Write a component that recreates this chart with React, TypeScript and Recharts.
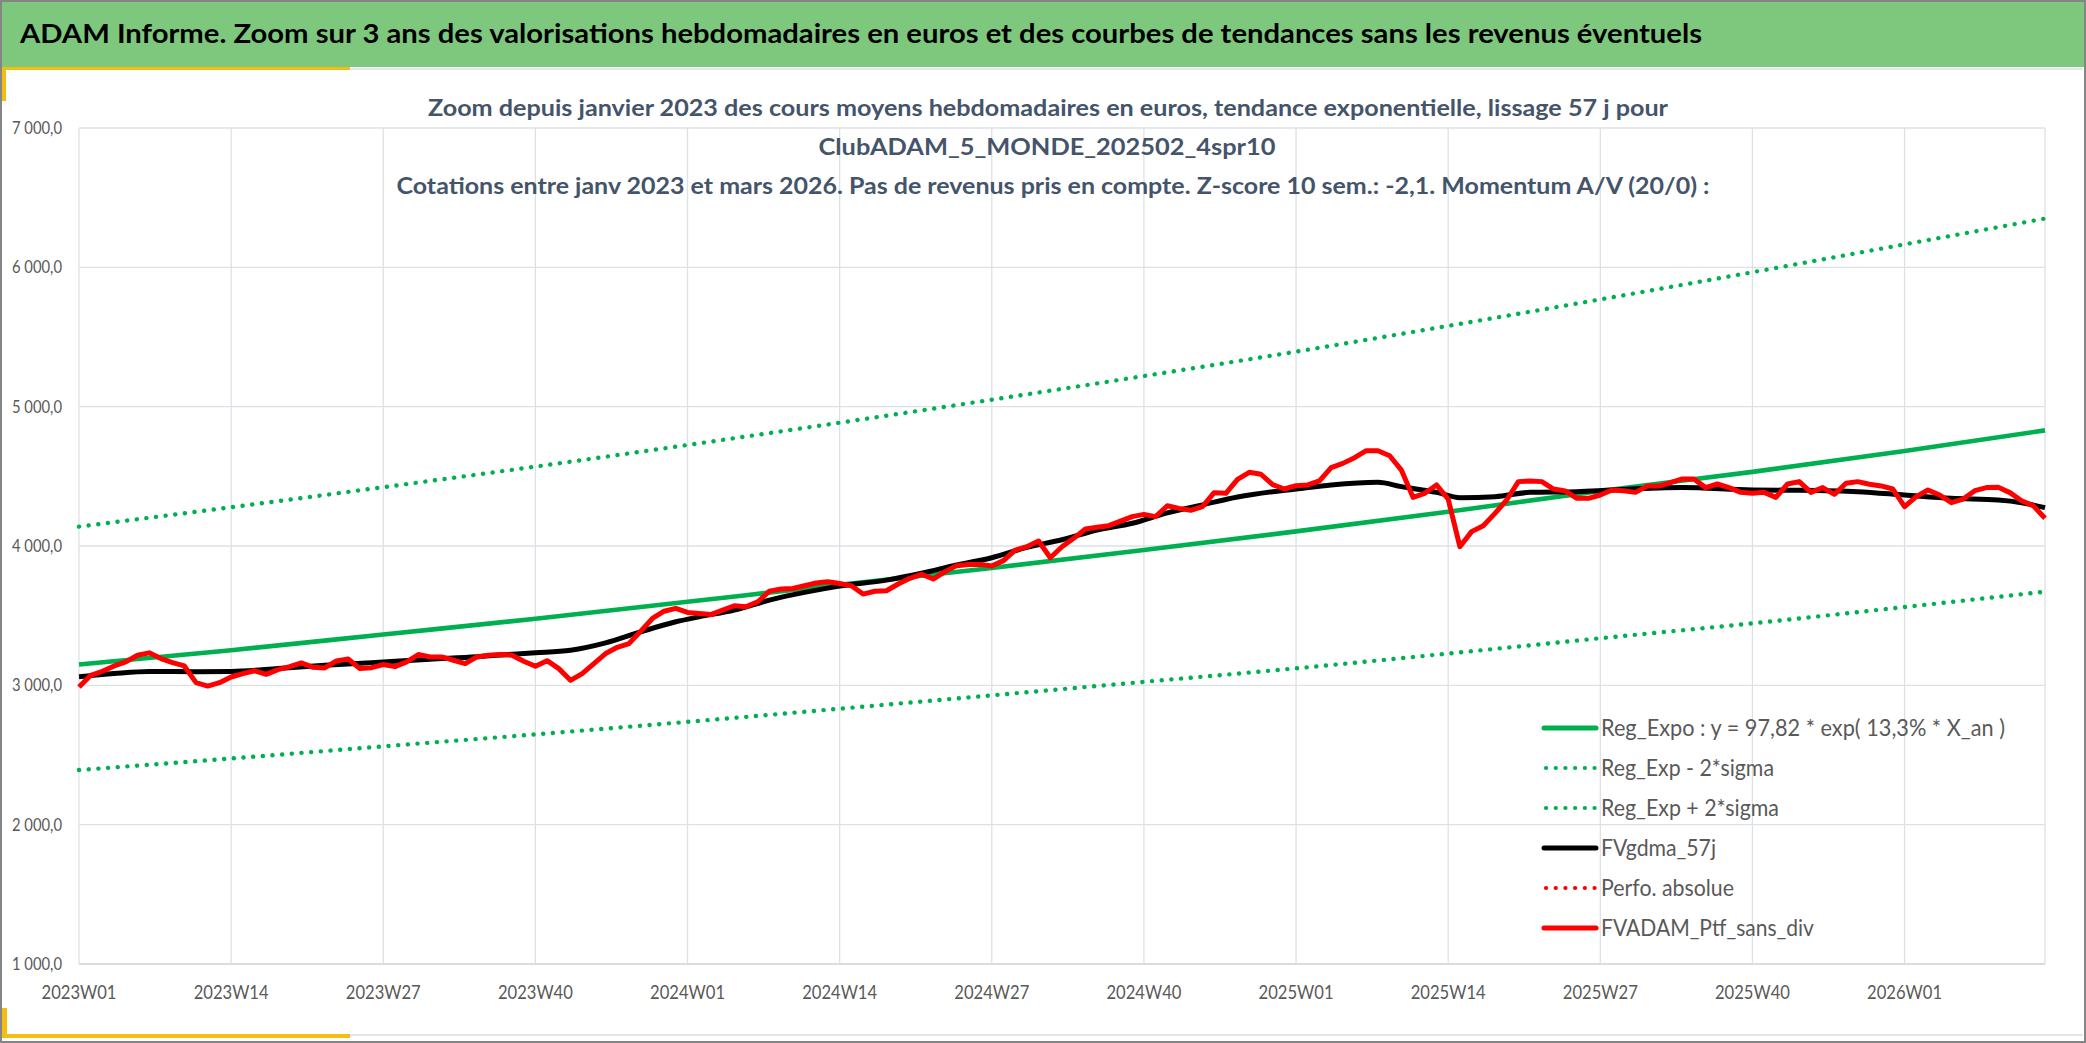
import React from 'react';
import { LineChart, Line, XAxis, YAxis, CartesianGrid } from 'recharts';

const W = 2086;
const H = 1043;
const FONT = "Lato, 'Open Sans', 'DejaVu Sans', sans-serif";

// ---- tick labels ----
const tickWeeks = [0, 13, 26, 39, 52, 65, 78, 91, 104, 117, 130, 143, 156];
const weekLabels = [
  '2023W01', '2023W14', '2023W27', '2023W40', '2024W01', '2024W14', '2024W27',
  '2024W40', '2025W01', '2025W14', '2025W27', '2025W40', '2026W01',
];
const yTicks = [1000, 2000, 3000, 4000, 5000, 6000, 7000];

// ---- FVADAM_Ptf_sans_div : weekly values, week index 0 = 2023W01 ----
const portfolioValues = [
  2988, 3072, 3101, 3139, 3168, 3216, 3233, 3192, 3163, 3139,
  3019, 2995, 3019, 3060, 3084, 3105, 3079, 3113, 3134, 3161,
  3129, 3125, 3175, 3189, 3120, 3127, 3149, 3134, 3168, 3221,
  3204, 3204, 3180, 3156, 3204, 3216, 3221, 3216, 3173, 3137,
  3177, 3120, 3036, 3084, 3156, 3228, 3273, 3300, 3388, 3480,
  3532, 3552, 3523, 3516, 3508, 3540, 3571, 3564, 3600, 3676,
  3691, 3695, 3715, 3734, 3743, 3731, 3715, 3655, 3675, 3679,
  3727, 3768, 3797, 3763, 3816, 3859, 3868, 3868, 3856, 3895,
  3971, 3995, 4036, 3916, 3995, 4055, 4122, 4134, 4146, 4179,
  4211, 4227, 4211, 4289, 4270, 4256, 4282, 4383, 4378, 4478,
  4529, 4515, 4440, 4409, 4433, 4438, 4467, 4562, 4593, 4634,
  4684, 4684, 4648, 4545, 4349, 4378, 4438, 4337, 3995, 4103,
  4146, 4234, 4330, 4462, 4467, 4462, 4409, 4395, 4342, 4342,
  4366, 4402, 4397, 4385, 4430, 4430, 4455, 4481, 4481, 4419,
  4445, 4419, 4385, 4378, 4385, 4349, 4445, 4462, 4385, 4419,
  4371, 4450, 4462, 4443, 4431, 4409, 4282, 4354, 4402, 4366,
  4311, 4337, 4397, 4419, 4421, 4383, 4325, 4289, 4199,
];

// ---- FVgdma_57j (smoothed) ----
const smoothWeeks = [
  0, 3, 6, 10, 13, 17, 21, 25, 30, 34, 36, 39, 42, 45, 48, 51, 53, 56, 59, 62,
  65, 69, 72, 75, 78, 81, 84, 87, 90, 93, 96, 99, 102, 104, 107, 111, 113, 116,
  118, 121, 124, 128, 131, 137, 143, 147, 152, 156, 160, 164, 166, 168,
];
const smoothValues = [
  3062, 3085, 3100, 3098, 3100, 3120, 3144, 3163, 3188, 3206, 3218, 3233, 3252,
  3305, 3384, 3456, 3492, 3540, 3612, 3667, 3712, 3755, 3804, 3864, 3916, 3990,
  4045, 4115, 4163, 4238, 4295, 4352, 4390, 4409, 4438, 4457, 4426, 4385, 4347,
  4354, 4385, 4390, 4402, 4419, 4402, 4400, 4390, 4366, 4342, 4330, 4311, 4275,
];

// ---- Regression and bands ----
const trendWeeks = [0, 13, 26, 39, 52, 65, 78, 91, 104, 117, 130, 143, 156, 168];
const trendValues = [3149, 3252, 3365, 3478, 3600, 3722, 3842, 3971, 4105, 4246, 4395, 4532, 4682, 4830];
const lowerBandValues = [2392, 2475, 2562, 2648, 2738, 2832, 2928, 3025, 3122, 3228, 3338, 3445, 3562, 3672];
const upperBandValues = [4139, 4278, 4422, 4570, 4725, 4885, 5050, 5220, 5395, 5580, 5770, 5965, 6165, 6350];

// ---- texts ----
const titleText =
  'ADAM Informe. Zoom sur 3 ans des valorisations hebdomadaires en euros et des courbes de tendances sans les revenus éventuels';
const subtitleLines = [
  'Zoom depuis janvier 2023 des cours moyens hebdomadaires en euros, tendance exponentielle, lissage 57 j pour',
  'ClubADAM_5_MONDE_202502_4spr10',
  'Cotations entre janv 2023 et mars 2026. Pas de revenus pris en compte. Z-score 10 sem.: -2,1. Momentum A/V (20/0) :',
];
const legendLabels = [
  'Reg_Expo : y = 97,82 * exp( 13,3% *  X_an )',
  'Reg_Exp - 2*sigma',
  'Reg_Exp + 2*sigma',
  'FVgdma_57j',
  'Perfo. absolue',
  'FVADAM_Ptf_sans_div',
];
const legendColors = ['#00B050', '#00B050', '#00B050', '#000000', '#FF0000', '#FF0000'];
const legendDotted = [false, true, true, false, true, false];
const legendTextWidths = [404, 173, 178, 115, 133, 213];

const subtitleCenters = [1048, 1047, 1053];
const subtitleWidths = [1240, 457, 1313];
const subtitleBaselines = [116, 155, 194];

const GREEN = '#00B050';
const RED = '#FF0000';
const DOTS = '0.1 9.6';
const YELLOW = '#F5BD12';

function fmtY(v: number): string {
  const th = Math.floor(v / 1000);
  const rest = String(v % 1000).padStart(3, '0');
  return `${th} ${rest},0`;
}

const XTick = (props: any) => {
  const { x, payload } = props;
  const idx = tickWeeks.indexOf(payload.value);
  const label = idx >= 0 ? weekLabels[idx] : '';
  return (
    <text
      x={x}
      y={999}
      textAnchor="middle"
      fontSize={19.5}
      fill="#595959"
      fontFamily={FONT}
      textLength={75}
      lengthAdjust="spacingAndGlyphs"
    >
      {label}
    </text>
  );
};

const YTick = (props: any) => {
  const { y, payload } = props;
  return (
    <text
      x={62}
      y={y + 6}
      textAnchor="end"
      fontSize={17.5}
      fill="#595959"
      fontFamily={FONT}
      textLength={50}
      lengthAdjust="spacingAndGlyphs"
    >
      {fmtY(payload.value)}
    </text>
  );
};

export default function App() {
  const portfolioData = portfolioValues.map((v, i) => ({ w: i, value: v }));
  const smoothData = smoothWeeks.map((w, i) => ({ w, value: smoothValues[i] }));
  const trendData = trendWeeks.map((w, i) => ({ w, value: trendValues[i] }));
  const lowerData = trendWeeks.map((w, i) => ({ w, value: lowerBandValues[i] }));
  const upperData = trendWeeks.map((w, i) => ({ w, value: upperBandValues[i] }));

  return (
    <div
      style={{
        position: 'absolute',
        left: 0,
        top: 0,
        width: W,
        height: H,
        background: '#ffffff',
        overflow: 'hidden',
        fontFamily: FONT,
      }}
    >
      {/* frame and header */}
      <div style={{ position: 'absolute', left: 0, top: 0, width: W, height: 67, background: '#7EC87E' }} />
      <div style={{ position: 'absolute', left: 350, top: 68, width: 1733, height: 2, background: '#E3E6EA' }} />
      <div style={{ position: 'absolute', left: 0, top: 67, width: 350, height: 3, background: YELLOW }} />
      <div style={{ position: 'absolute', left: 0, top: 67, width: 6, height: 34, background: YELLOW }} />
      <div style={{ position: 'absolute', left: 350, top: 1034, width: 1733, height: 2, background: '#E3E6EA' }} />
      <div style={{ position: 'absolute', left: 0, top: 1034, width: 350, height: 4, background: YELLOW }} />
      <div style={{ position: 'absolute', left: 0, top: 1008, width: 7, height: 30, background: YELLOW }} />
      <div
        style={{
          position: 'absolute',
          left: 0,
          top: 0,
          width: W,
          height: H,
          border: '2px solid #858585',
          boxSizing: 'border-box',
        }}
      />

      <div style={{ position: 'absolute', left: 0, top: 0 }}>
        <LineChart width={W} height={H} margin={{ top: 128, right: 41, bottom: 0, left: 0 }}>
          <CartesianGrid stroke="#DDE1E6" strokeWidth={1.3} />
          <XAxis
            type="number"
            dataKey="w"
            domain={[0, 168]}
            ticks={tickWeeks}
            interval={0}
            height={79}
            tick={<XTick />}
            tickLine={false}
            axisLine={{ stroke: '#D9D9D9', strokeWidth: 1.5 }}
          />
          <YAxis
            type="number"
            domain={[1000, 7000]}
            ticks={yTicks}
            interval={0}
            width={79}
            tick={<YTick />}
            axisLine={false}
            tickLine={false}
          />
          <Line
            data={upperData}
            dataKey="value"
            type="monotone"
            stroke={GREEN}
            strokeWidth={4.4}
            strokeDasharray={DOTS}
            strokeLinecap="round"
            dot={false}
            activeDot={false}
            isAnimationActive={false}
          />
          <Line
            data={lowerData}
            dataKey="value"
            type="monotone"
            stroke={GREEN}
            strokeWidth={4.4}
            strokeDasharray={DOTS}
            strokeLinecap="round"
            dot={false}
            activeDot={false}
            isAnimationActive={false}
          />
          <Line
            data={trendData}
            dataKey="value"
            type="monotone"
            stroke={GREEN}
            strokeWidth={4.6}
            dot={false}
            activeDot={false}
            isAnimationActive={false}
          />
          <Line
            data={smoothData}
            dataKey="value"
            type="monotone"
            stroke="#000000"
            strokeWidth={5}
            dot={false}
            activeDot={false}
            isAnimationActive={false}
          />
          <Line
            data={portfolioData}
            dataKey="value"
            type="linear"
            stroke={RED}
            strokeWidth={5}
            strokeLinejoin="round"
            dot={false}
            activeDot={false}
            isAnimationActive={false}
          />
        </LineChart>
      </div>

      {/* titles and legend */}
      <svg
        width={W}
        height={H}
        style={{ position: 'absolute', left: 0, top: 0, pointerEvents: 'none' }}
      >
        <text
          x={20}
          y={43}
          fontSize={27}
          fontWeight="bold"
          fill="#000000"
          fontFamily={FONT}
          textLength={1682}
          lengthAdjust="spacingAndGlyphs"
        >
          {titleText}
        </text>
        {subtitleLines.map((t, i) => (
          <text
            key={i}
            x={subtitleCenters[i]}
            y={subtitleBaselines[i]}
            textAnchor="middle"
            fontSize={23}
            fontWeight="bold"
            fill="#44546A"
            fontFamily={FONT}
            textLength={subtitleWidths[i]}
            lengthAdjust="spacingAndGlyphs"
          >
            {t}
          </text>
        ))}
        {legendLabels.map((t, i) => {
          const cy = 728 + 40 * i;
          return (
            <g key={i}>
              <line
                x1={legendDotted[i] ? 1546 : 1544}
                x2={1596}
                y1={cy}
                y2={cy}
                stroke={legendColors[i]}
                strokeWidth={legendDotted[i] ? 4.2 : 5}
                strokeDasharray={legendDotted[i] ? '0.1 9.6' : undefined}
                strokeLinecap="round"
              />
              <text
                x={1601}
                y={cy + 8}
                fontSize={22.5}
                fill="#595959"
                fontFamily={FONT}
                textLength={legendTextWidths[i]}
                lengthAdjust="spacingAndGlyphs"
              >
                {t}
              </text>
            </g>
          );
        })}
      </svg>
    </div>
  );
}
